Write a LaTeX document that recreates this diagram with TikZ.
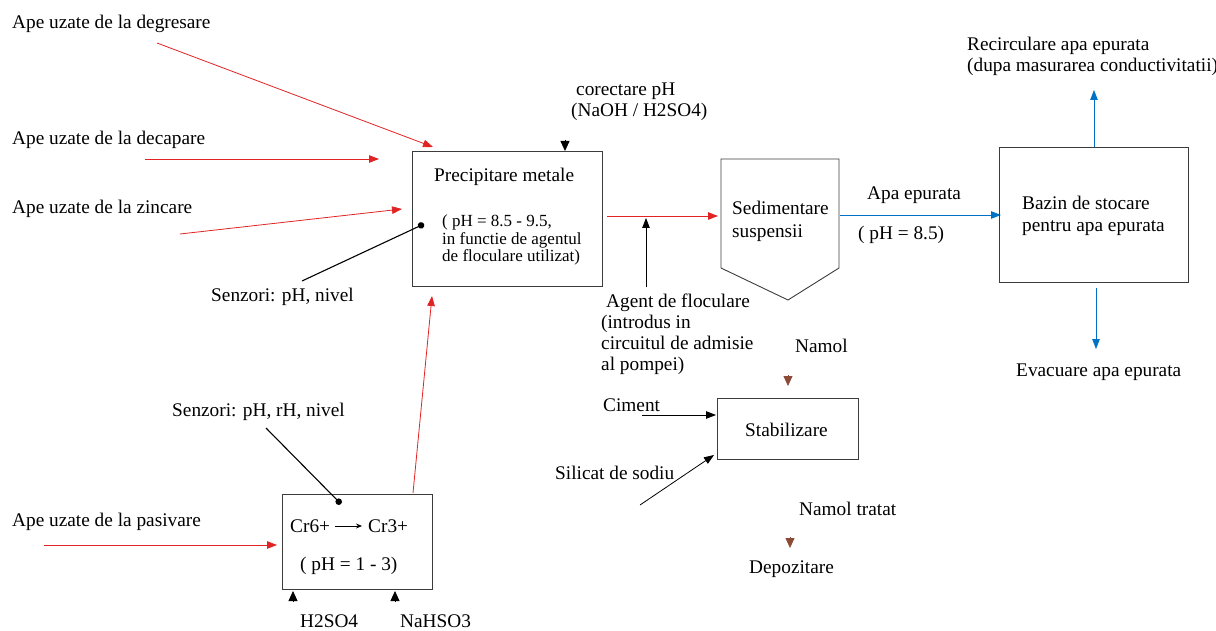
\documentclass[tikz,border=0pt]{standalone}
\usepackage{fontspec}
\setmainfont{Liberation Serif}
\usetikzlibrary{arrows.meta}
\definecolor{flowred}{RGB}{225,35,35}
\definecolor{flowblue}{RGB}{0,114,198}
\definecolor{sludge}{RGB}{140,75,55}
\definecolor{edgegray}{RGB}{60,60,60}
\begin{document}
\begin{tikzpicture}[x=1pt,y=-1pt,
  lbl/.style={inner sep=0pt, anchor=west, font=\fontsize{19.3}{21}\selectfont, align=left},
  small/.style={inner sep=0pt, anchor=west, font=\fontsize{17}{17.5}\selectfont, align=left},
  box/.style={draw=edgegray, line width=0.9pt, inner sep=0pt, anchor=north west},
  redarrow/.style={draw=flowred, line width=0.8pt, -{Triangle[length=10pt,width=7.5pt]}},
  bluearrow/.style={draw=flowblue, line width=0.8pt, -{Triangle[length=10pt,width=7.5pt]}},
  blackarrow/.style={draw=black, line width=0.8pt, -{Triangle[length=10pt,width=7.5pt]}},
  tiparrow/.style={line width=0.8pt, -{Triangle[length=10pt,width=9pt]}},
  sensor/.style={draw=black, line width=1.1pt, -{Circle[length=6.5pt]}}]
\useasboundingbox (0,0) rectangle (1216,631);

% input texts
\node[lbl] (tdeg) at (12,24) {Ape uzate de la degresare};
\node[lbl] (tdec) at (12,140) {Ape uzate de la decapare};
\node[lbl] (tzin) at (12,209) {Ape uzate de la zincare};
\node[lbl] (tpas) at (12,522) {Ape uzate de la pasivare};

% Precipitare box
\node[box, minimum width=190pt, minimum height=135pt] (prec) at (412,151) {};
\node[lbl] (prect) at (434,177) {Precipitare metale};
\node[small] (precph) at (442,240) {( pH = 8.5 - 9.5,\\ in functie de agentul\\ de floculare utilizat)};

% corectare pH
\node[lbl] (cor) at (571,102) {\hspace*{5pt}corectare pH\\(NaOH / H2SO4)};
\coordinate (corS) at (565,140);
\coordinate (corE) at (565,151);
\draw[tiparrow] (corS) -- (corE);

% sensors precipitare
\node[lbl] (sen1) at (211,297) {Senzori: pH, nivel};
\coordinate (sen1S) at (302,281);
\coordinate (sen1E) at (424,224);
\draw[sensor] (sen1S) -- (sen1E);

% red arrows into precipitare
\coordinate (a1S) at (157,43);  \coordinate (a1E) at (433,147);
\coordinate (a2S) at (145,159); \coordinate (a2E) at (379,159);
\coordinate (a3S) at (180,234); \coordinate (a3E) at (402,209);
\draw[redarrow] (a1S) -- (a1E);
\draw[redarrow] (a2S) -- (a2E);
\draw[redarrow] (a3S) -- (a3E);

% Cr box
\node[box, minimum width=150pt, minimum height=95pt] (crbox) at (282,494) {};
\node[lbl] (cr6) at (290,526) {Cr6+};
\node[lbl] (cr3) at (368,526) {Cr3+};
\draw[line width=0.8pt, -{Stealth[length=6pt,width=5pt]}] ([xshift=5pt]cr6.east) -- ([xshift=-6pt]cr3.west);
\node[lbl] (crph) at (300,566) {( pH = 1 - 3)};
\coordinate (a4S) at (44,545); \coordinate (a4E) at (277,545);
\draw[redarrow] (a4S) -- (a4E);
\coordinate (crUp) at (413,493); \coordinate (precIn) at (432,296);
\draw[redarrow] (crUp) -- (precIn);

\node[lbl] (sen2) at (172,412) {Senzori: pH, rH, nivel};
\coordinate (sen2S) at (266,428);
\coordinate (sen2E) at (341,504);
\draw[sensor] (sen2S) -- (sen2E);

\coordinate (h1S) at (293,601); \coordinate (h1E) at (293,591);
\coordinate (h2S) at (395,601); \coordinate (h2E) at (395,591);
\draw[tiparrow] (h1S) -- (h1E);
\draw[tiparrow] (h2S) -- (h2E);
\node[lbl] (h2so4) at (300,621) {H2SO4};
\node[lbl] (nahso3) at (400,621) {NaHSO3};

% Sedimentare
\coordinate (s1) at (721,159);
\coordinate (s2) at (839,159);
\coordinate (s3) at (839,268);
\coordinate (s4) at (788,300);
\coordinate (s5) at (721,268);
\draw[draw=edgegray, line width=0.9pt] (s1) -- (s2) -- (s3) -- (s4) -- (s5) -- cycle;
\node[lbl, align=left] (sedt) at (732,221) {Sedimentare\\[2pt]suspensii};
\coordinate (p2sS) at (607,216); \coordinate (p2sE) at (718,216);
\draw[redarrow] (p2sS) -- (p2sE);

% Agent de floculare
\node[lbl] (agent) at (601,334) {\hspace*{5pt}Agent de floculare\\(introdus in\\circuitul de admisie\\al pompei)};
\coordinate (agS) at (646,287); \coordinate (agE) at (646,218);
\draw[blackarrow] (agS) -- (agE);

% Apa epurata
\coordinate (bS) at (840,215); \coordinate (bE) at (1001,215);
\draw[bluearrow] (bS) -- (bE);
\node[lbl] (apa) at (867,195) {Apa epurata};
\node[lbl] (apaph) at (858,235) {( pH = 8.5)};

% Bazin
\node[box, minimum width=189pt, minimum height=135pt] (bazin) at (999,147) {};
\node[lbl] (bazt) at (1022,216) {Bazin de stocare\\[1pt]pentru apa epurata};
\coordinate (upS) at (1094,147); \coordinate (upE) at (1094,90);
\draw[bluearrow] (upS) -- (upE);
\coordinate (dnS) at (1096,288); \coordinate (dnE) at (1096,349);
\draw[bluearrow] (dnS) -- (dnE);
\node[lbl] (recirc) at (967,56) {Recirculare apa epurata\\(dupa masurarea conductivitatii)};
\node[lbl] (evac) at (1016,372) {Evacuare apa epurata};

% Stabilizare
\node[lbl] (namol) at (795,346) {Namol};
\coordinate (nS) at (788,375); \coordinate (nE) at (788,386);
\draw[tiparrow, draw=sludge, fill=sludge] (nS) -- (nE);
\node[box, minimum width=141pt, minimum height=61pt] (stab) at (717,398) {};
\node[lbl] (stabt) at (745,430) {Stabilizare};
\node[lbl] (ciment) at (603,405) {Ciment};
\coordinate (cS) at (642,415); \coordinate (cE) at (716,415);
\draw[blackarrow] (cS) -- (cE);
\node[lbl] (silicat) at (555,473) {Silicat de sodiu};
\coordinate (siS) at (640,505); \coordinate (siE) at (714,455);
\draw[blackarrow] (siS) -- (siE);
\node[lbl] (ntrat) at (799,509) {Namol tratat};
\coordinate (ntS) at (790,537); \coordinate (ntE) at (790,548);
\draw[tiparrow, draw=sludge, fill=sludge] (ntS) -- (ntE);
\node[lbl] (depoz) at (749,569) {Depozitare};
\end{tikzpicture}
\end{document}
